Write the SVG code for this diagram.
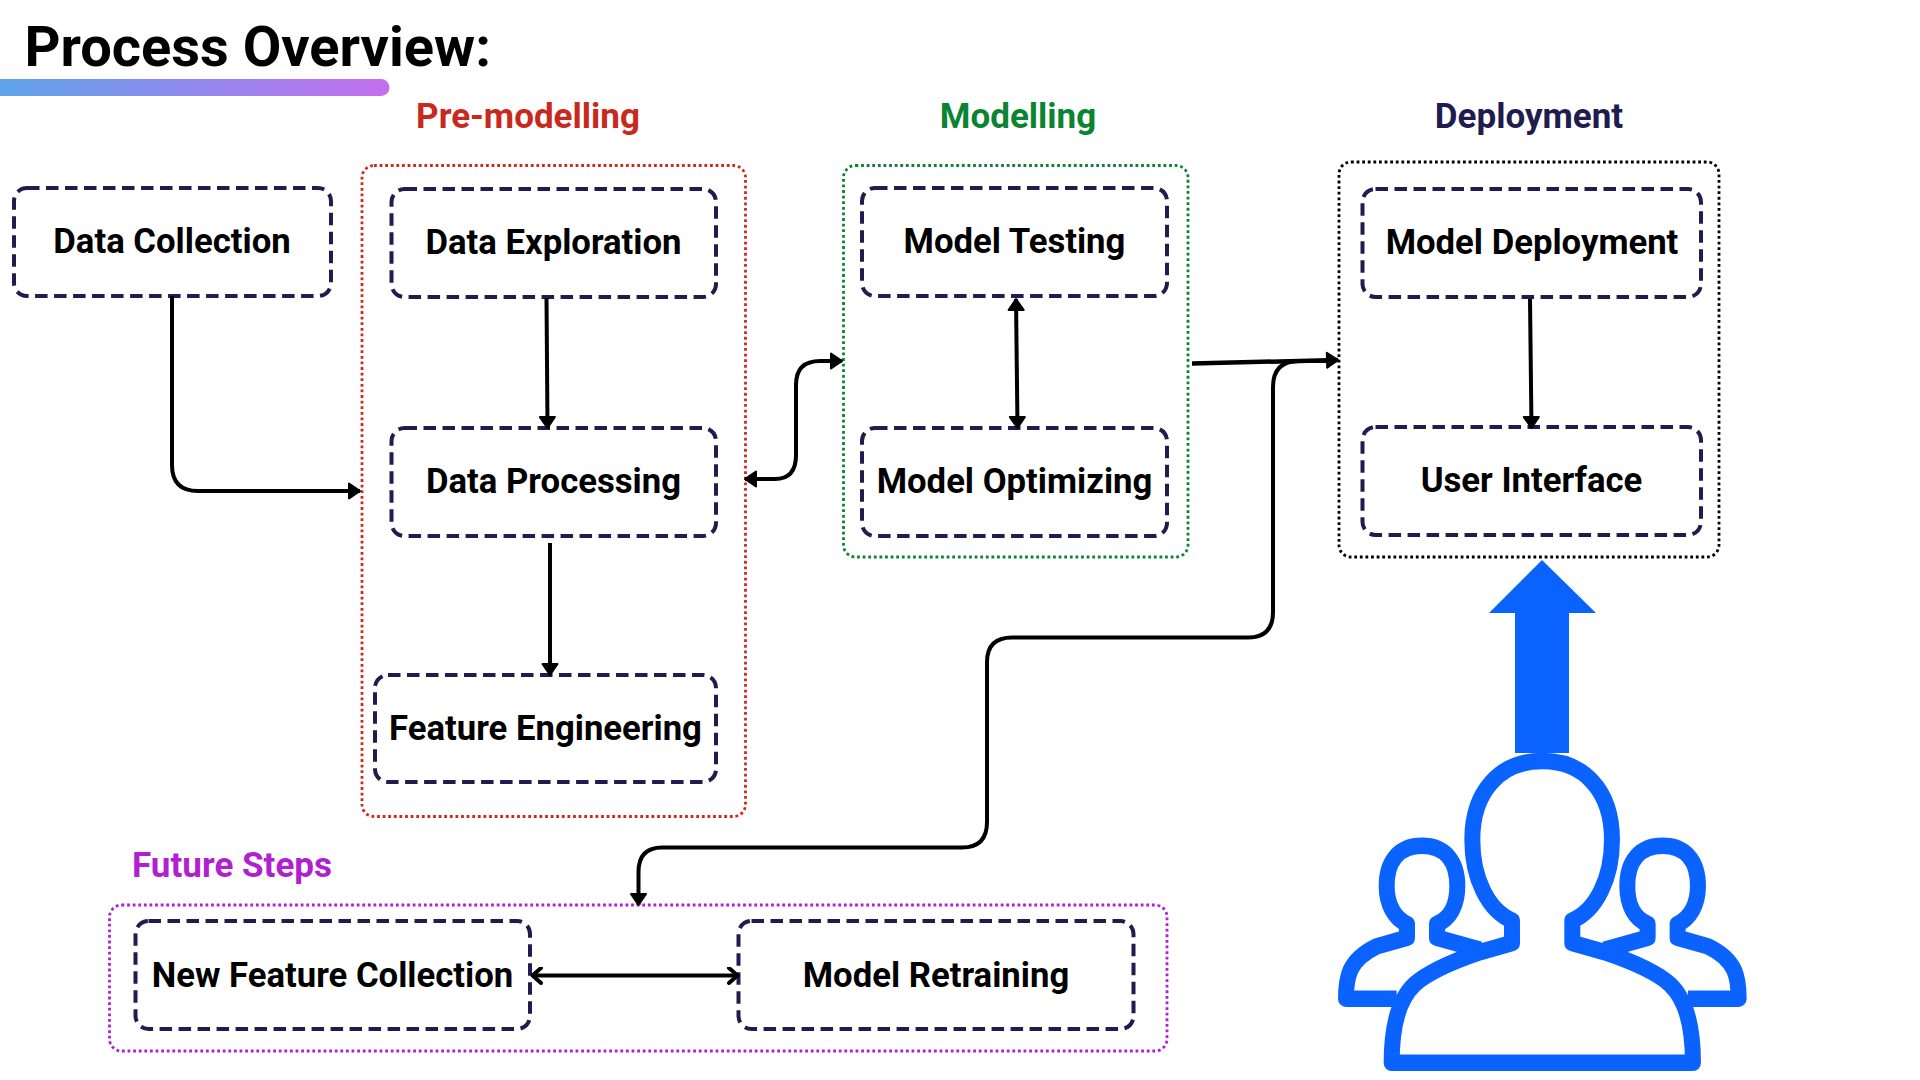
<svg xmlns="http://www.w3.org/2000/svg" width="1920" height="1080" viewBox="0 0 1920 1080">
<style>
text{font-family:Roboto,"Liberation Sans",sans-serif;font-weight:700}
.t{font-size:34.700px;fill:#000;text-anchor:middle}
.h{font-size:35px;text-anchor:middle}
.box{fill:none;stroke:#211c4f;stroke-width:4;stroke-dasharray:12.500 6.500}
.grp{fill:none;stroke-width:2.800;stroke-dasharray:2.800 2.800}
.c{fill:none;stroke:#000;stroke-width:4}
.p{fill:none;stroke:#0a63ff;stroke-width:48;stroke-linejoin:round}
</style>
<defs>
<linearGradient id="bar" x1="0" x2="1" y1="0" y2="0"><stop offset="0" stop-color="#5ea3ea"/><stop offset="1" stop-color="#c46fec"/></linearGradient>
<marker id="a" viewBox="0 0 16 18" refX="14" refY="9" markerWidth="16" markerHeight="18" markerUnits="userSpaceOnUse" orient="auto-start-reverse"><path d="M3,1.500 L14,9 L3,16.500 Z" fill="#000" stroke="#000" stroke-width="2" stroke-linejoin="round"/></marker>
<marker id="v" viewBox="0 0 16 18" refX="14" refY="9" markerWidth="16" markerHeight="18" markerUnits="userSpaceOnUse" orient="auto-start-reverse"><path d="M5,1.500 L13.500,9 L5,16.500" fill="none" stroke="#000" stroke-width="4" stroke-linecap="round" stroke-linejoin="round"/></marker>
</defs>
<rect width="1920" height="1080" fill="#fff"/>
<g id="title"><text x="24.500" y="66" style="font-size:56px">Process Overview:</text>
<path d="M0,79 H381 A8.500,8.500 0 0 1 381,96 H0 Z" fill="url(#bar)"/></g>
<g id="group-pre"><rect class="grp" x="362" y="165.500" width="383.500" height="651" rx="12" stroke="#d0281c"/><text class="h" x="528" y="128" fill="#c9281c">Pre-modelling</text></g>
<g id="group-modelling"><rect class="grp" x="843.500" y="165.500" width="344.500" height="391.500" rx="12" stroke="#0a8432"/><text class="h" x="1018" y="128" fill="#0a8432">Modelling</text></g>
<g id="group-deployment"><rect class="grp" x="1339" y="162" width="380" height="395" rx="12" stroke="#000"/><text class="h" x="1529" y="128" fill="#211c4f">Deployment</text></g>
<g id="group-future"><rect class="grp" x="109.500" y="905" width="1057.500" height="146" rx="12" stroke="#b01fd1"/><text class="h" x="232" y="877" fill="#b01fd1">Future Steps</text></g>
<g id="data-collection"><rect class="box" x="14" y="188" width="317" height="108" rx="13"/><text class="t" x="172" y="253">Data Collection</text></g>
<g id="data-exploration"><rect class="box" x="391.500" y="189" width="324.500" height="108" rx="13"/><text class="t" x="553.500" y="254">Data Exploration</text></g>
<g id="data-processing"><rect class="box" x="391.500" y="428" width="324.500" height="108" rx="13"/><text class="t" x="553.500" y="493">Data Processing</text></g>
<g id="feature-engineering"><rect class="box" x="375" y="675" width="341" height="107" rx="13"/><text class="t" x="545.500" y="740">Feature Engineering</text></g>
<g id="model-testing"><rect class="box" x="862" y="188" width="305" height="108" rx="13"/><text class="t" x="1014.500" y="253">Model Testing</text></g>
<g id="model-optimizing"><rect class="box" x="862" y="428" width="305" height="108" rx="13"/><text class="t" x="1014.500" y="493">Model Optimizing</text></g>
<g id="model-deployment"><rect class="box" x="1362.500" y="189" width="338.500" height="108" rx="13"/><text class="t" x="1532" y="254">Model Deployment</text></g>
<g id="user-interface"><rect class="box" x="1362.500" y="427" width="338.500" height="108" rx="13"/><text class="t" x="1531.500" y="492">User Interface</text></g>
<g id="new-feature-collection"><rect class="box" x="135.500" y="921" width="394.500" height="108" rx="13"/><text class="t" x="332.500" y="987">New Feature Collection</text></g>
<g id="model-retraining"><rect class="box" x="738.500" y="921" width="395" height="108" rx="13"/><text class="t" x="936" y="987">Model Retraining</text></g>
<g id="connectors">
<path class="c" marker-end="url(#a)" d="M172,296 V465 Q172,491 198,491 H360"/>
<path class="c" marker-end="url(#a)" d="M546.500,298 L547.500,428"/>
<path class="c" marker-end="url(#a)" d="M550,543 V675"/>
<path class="c" marker-start="url(#a)" marker-end="url(#a)" d="M745,479 H775 Q796,479 796,455 V385 Q796,361 820,361 H842"/>
<path class="c" marker-start="url(#a)" marker-end="url(#a)" d="M1016,299 L1017.500,428"/>
<path class="c" marker-end="url(#a)" style="stroke-width:4.500" d="M1192,363.500 L1338,360"/>
<path class="c" marker-end="url(#a)" d="M1530,299 L1531.500,428"/>
<path class="c" marker-end="url(#a)" d="M1335,361 H1299 Q1273,361 1273,387 V612 Q1273,637.500 1248,637.500 H1012 Q987,637.500 987,662 V822 Q987,847.500 962,847.500 H662 Q638.500,847.500 638.500,872 V905"/>
<path class="c" marker-start="url(#v)" marker-end="url(#v)" d="M532,975.500 H738"/>
</g>
<g id="users">
<path d="M1542,560 L1596,613 H1569 V753 H1515 V613 H1489 Z" fill="#0a63ff"/>
<g transform="translate(1300,540) scale(.3333,.3444)">
<path class="p" d="M290,1332 H138 C138,1270 145,1220 230,1180 L321,1155 V1115 C285,1100 260,1060 260,1005 C260,930 300,888 366,888 C432,888 472,930 472,1005 C472,1060 450,1100 411,1115 V1155 L540,1190"/>
<path class="p" d="M1164,1332 H1316 C1316,1270 1309,1220 1224,1180 L1133,1155 V1115 C1169,1100 1194,1060 1194,1005 C1194,930 1154,888 1088,888 C1022,888 982,930 982,1005 C982,1060 1004,1100 1043,1115 V1155 L914,1190"/>
<path class="p" d="M275,1518 H1179 C1179,1420 1160,1335 1110,1290 C1070,1255 1000,1225 915,1197 L817,1170 V1105 C890,1075 936,980 936,870 C936,730 854,642 727,642 C600,642 517,730 517,870 C517,980 563,1075 636,1105 V1170 L539,1197 C454,1225 384,1255 344,1290 C294,1335 275,1420 275,1518 Z"/>
</g>
</g>
</svg>
